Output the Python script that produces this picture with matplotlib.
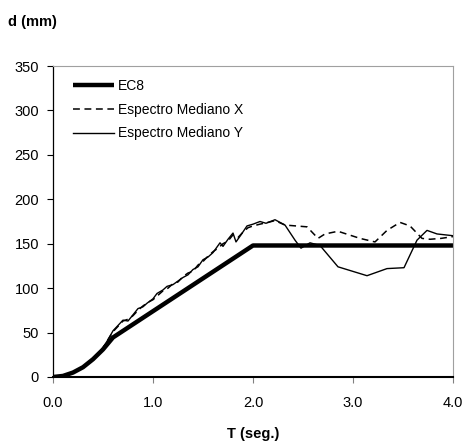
import matplotlib
matplotlib.use("Agg")
import matplotlib.pyplot as plt

plt.rcParams['font.family'] = ['Liberation Sans', 'DejaVu Sans']

# EC8 spectrum
t_ec8 = [0.0, 0.1, 0.2, 0.3, 0.4, 0.5, 0.6, 2.0, 4.0]
d_ec8 = [0.0, 1.2, 5.0, 11.0, 20.0, 31.0, 44.5, 148.0, 148.0]

# Espectro Mediano Y
t_y = [0, 0.1, 0.2, 0.3, 0.4, 0.5, 0.55, 0.6, 0.65, 0.7, 0.75, 0.8, 0.85, 0.9, 0.94,
       1.0, 1.04, 1.1, 1.14, 1.2, 1.25, 1.3, 1.35, 1.4, 1.45, 1.5, 1.55, 1.6, 1.67,
       1.7, 1.75, 1.8, 1.83, 1.88, 1.94, 2.0, 2.07, 2.13, 2.22, 2.32, 2.42, 2.48,
       2.57, 2.67, 2.85, 3.14, 3.34, 3.51, 3.64, 3.74, 3.84, 4.0]
d_y = [0, 1, 5, 11, 20, 33, 42, 52, 58, 64, 63, 70, 77, 79, 83,
       88, 94, 98, 102, 104, 108, 112, 115, 121, 124, 132, 135, 140, 151,
       147, 155, 162, 152, 160, 170, 172, 175, 173, 177, 171, 154, 145,
       151, 148, 124, 114, 122, 123, 154, 165, 161, 159]

# Espectro Mediano X
t_x = [0, 0.1, 0.2, 0.3, 0.4, 0.5, 0.55, 0.6, 0.65, 0.7, 0.75, 0.8, 0.85, 0.9, 0.95,
       1.0, 1.05, 1.1, 1.15, 1.2, 1.25, 1.3, 1.35, 1.4, 1.45, 1.5, 1.55, 1.6, 1.65,
       1.7, 1.75, 1.8, 1.85, 1.9, 1.95, 2.0, 2.07, 2.15, 2.22, 2.32, 2.54, 2.65,
       2.72, 2.85, 3.07, 3.22, 3.34, 3.47, 3.57, 3.69, 3.77, 3.88, 4.0]
d_x = [0, 1, 5, 11, 20, 33, 42, 51, 57, 63, 65, 69, 75, 80, 84,
       87, 92, 97, 100, 105, 107, 113, 117, 119, 126, 130, 136, 141, 145,
       150, 153, 160, 157, 163, 168, 170, 172, 174, 176, 171, 169, 156,
       161, 164, 156, 152, 165, 174, 170, 156, 155, 156, 158]

fig = plt.figure(figsize=(4.65, 4.43), dpi=100)
ax = fig.add_axes([53/465, (443-377)/443, 400/465, 311/443])

ax.plot(t_ec8, d_ec8, color='black', lw=3.2, label='EC8', solid_capstyle='butt')
ax.plot(t_x, d_x, color='black', lw=1.1, ls=(0, (4.5, 3)), label='Espectro Mediano X')
ax.plot(t_y, d_y, color='black', lw=1.0, label='Espectro Mediano Y')

ax.set_xlim(0, 4.0)
ax.set_ylim(0, 350)
ax.set_xticks([0, 1, 2, 3, 4])
ax.set_xticklabels(['0.0', '1.0', '2.0', '3.0', '4.0'])
ax.set_yticks(range(0, 351, 50))
ax.tick_params(axis='both', labelsize=10.5, direction='out', length=4, width=0.8, color='black')
ax.tick_params(axis='x', pad=10, color='#808080')
ax.tick_params(axis='y', pad=6)

for s in ['top', 'right']:
    ax.spines[s].set_color('#a0a0a0')
    ax.spines[s].set_linewidth(0.8)
ax.spines['left'].set_linewidth(0.9)
ax.spines['bottom'].set_linewidth(1.5)

leg = ax.legend(loc='upper left', frameon=False, fontsize=10, handlelength=2.9,
                handletextpad=0.3, labelspacing=0.7, bbox_to_anchor=(0.03, 0.985),
                borderaxespad=0.2)

fig.text(8/465, 1 - 22/443, 'd (mm)', fontsize=10.5, fontweight='bold', va='center', ha='left')
fig.text(253/465, 1 - 434/443, 'T (seg.)', fontsize=10.5, fontweight='bold', va='center', ha='center')

fig.savefig('out.png', dpi=100)
